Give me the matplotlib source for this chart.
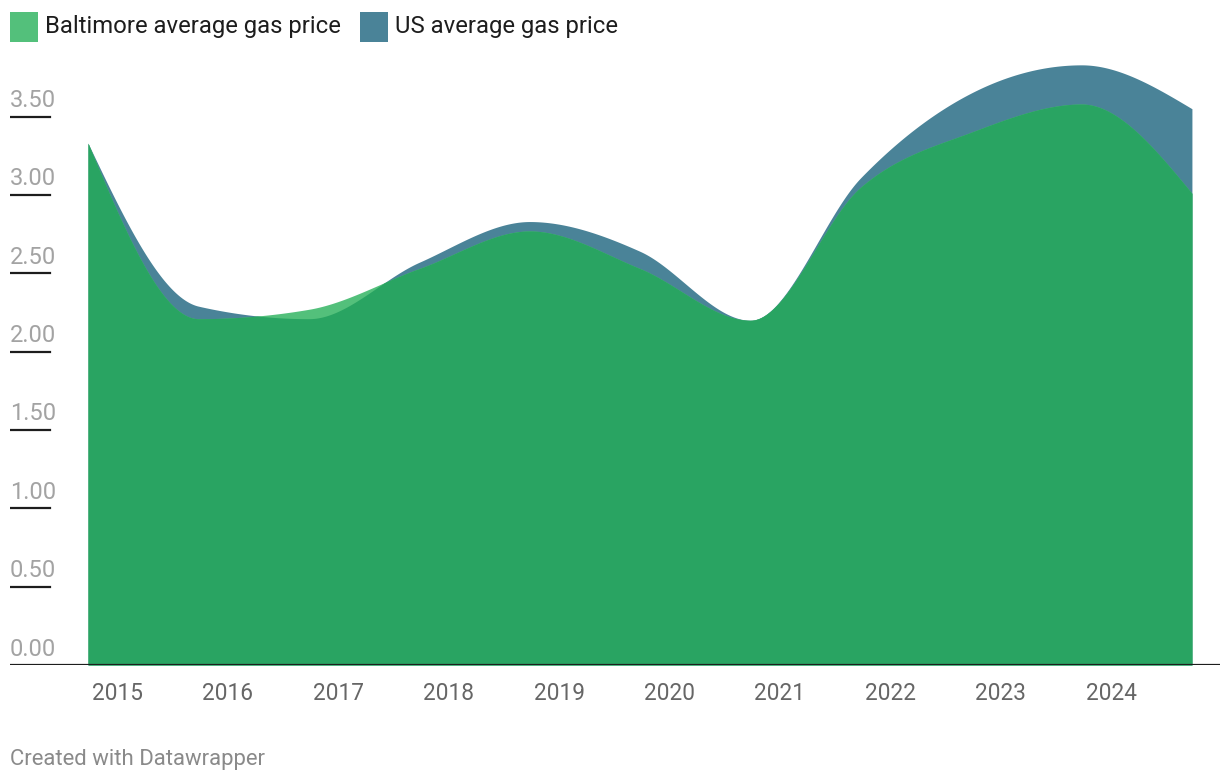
import numpy as np
import matplotlib
matplotlib.use("Agg")
import matplotlib.pyplot as plt
from matplotlib import transforms

# ---------------- data ----------------
years = [2014, 2015, 2016, 2017, 2018, 2019, 2020, 2021, 2022, 2023, 2024]
baltimore = [3.33, 2.21, 2.27, 2.53, 2.77, 2.53, 2.20, 3.05, 3.40, 3.58, 3.01]
us_avg = [3.33, 2.29, 2.21, 2.57, 2.83, 2.64, 2.20, 3.11, 3.65, 3.83, 3.55]
x_ticks = [2015, 2016, 2017, 2018, 2019, 2020, 2021, 2022, 2023, 2024]
y_ticks = [0.0, 0.5, 1.0, 1.5, 2.0, 2.5, 3.0, 3.5]
series_names = ["Baltimore average gas price", "US average gas price"]

DATE_OFFSET = 0.733  # observations fall in late September of each year

C_OVERLAP = "#29a462"
C_BALT = "#53c07b"
C_US = "#4a8398"

plt.rcParams["font.family"] = ["Roboto", "DejaVu Sans"]


def monotone_x(x, y, n=60):
    """d3.curveMonotoneX style interpolation."""
    x = np.asarray(x, float)
    y = np.asarray(y, float)
    h = np.diff(x)
    s = np.diff(y) / h
    m = len(x)
    t = np.zeros(m)
    sg = lambda v: -1.0 if v < 0 else 1.0
    for i in range(1, m - 1):
        p = (s[i - 1] * h[i] + s[i] * h[i - 1]) / (h[i - 1] + h[i])
        t[i] = (sg(s[i - 1]) + sg(s[i])) * min(abs(s[i - 1]), abs(s[i]), 0.5 * abs(p))
    t[0] = (3 * s[0] - t[1]) / 2
    t[-1] = (3 * s[-1] - t[-2]) / 2
    xs, ys = [], []
    for i in range(m - 1):
        u = np.linspace(0, 1, n, endpoint=(i == m - 2))
        h00 = 2 * u**3 - 3 * u**2 + 1
        h10 = u**3 - 2 * u**2 + u
        h01 = -2 * u**3 + 3 * u**2
        h11 = u**3 - u**2
        xs.append(x[i] + u * h[i])
        ys.append(h00 * y[i] + h10 * h[i] * t[i] + h01 * y[i + 1] + h11 * h[i] * t[i + 1])
    return np.concatenate(xs), np.concatenate(ys)


W, H = 1220, 782
fig = plt.figure(figsize=(W / 100, H / 100), dpi=100)

# pixel geometry
ax_left_px, ax_right_px = 10, 1220
base_px, top_px = 665, 60
px_per_year = 110.39
tick2015_px = 117.5

ax = fig.add_axes([ax_left_px / W, (H - base_px) / H,
                   (ax_right_px - ax_left_px) / W, (base_px - top_px) / H])
x0 = 2015 + (ax_left_px - tick2015_px) / px_per_year
x1 = 2015 + (ax_right_px - tick2015_px) / px_per_year
ax.set_xlim(x0, x1)
ax.set_ylim(0, (base_px - top_px) / 156.7)

xd = np.array(years) + DATE_OFFSET
xs, yb = monotone_x(xd, baltimore)
_, yu = monotone_x(xd, us_avg)
ymin = np.minimum(yb, yu)

# layered fills (no seams): US, Baltimore, then the shared part on top
ax.fill_between(xs, 0, yu, color=C_US, lw=0, zorder=1)
ax.fill_between(xs, 0, yb, color=C_BALT, lw=0, zorder=1.5)
ax.fill_between(xs, 0, ymin, color=C_OVERLAP, lw=0, zorder=2)

for s in ax.spines.values():
    s.set_visible(False)
ax.set_yticks([])
ax.set_xticks(x_ticks)
ax.set_xticklabels([str(v) for v in x_ticks], fontsize=16.3, color="#666666")
ax.tick_params(axis="x", length=0, pad=12)
ax.axhline(0, color="#1d1d1d", lw=1.6, zorder=3)

ytrans = transforms.blended_transform_factory(ax.transAxes, ax.transData)
lab_trans = transforms.offset_copy(ytrans, fig=fig, y=9.5 * 0.72, units="points")
for v in y_ticks:
    if v > 0:
        ax.axhline(v, xmin=0, xmax=40 / (ax_right_px - ax_left_px), color="#1d1d1d", lw=1.6, zorder=3)
    ax.text(0, v, f"{v:.2f}", transform=lab_trans, ha="left", va="baseline",
            fontsize=17, color="#a3a3a3", zorder=4)

# legend
sq_w, sq_h = 28, 30
for (lx, name, col) in [(10, series_names[0], C_BALT), (360, series_names[1], C_US)]:
    fig.patches.append(plt.Rectangle((lx / W, (H - 42) / H), sq_w / W, sq_h / H,
                                     transform=fig.transFigure, color=col, lw=0))
    fig.text((lx + 35) / W, (H - 27) / H, name, ha="left", va="center",
             fontsize=17.2, color="#1d1d1d")

fig.text(10 / W, (H - 759) / H, "Created with Datawrapper", ha="left", va="center",
         fontsize=15.9, color="#8a8a8a")

fig.savefig("out.png", dpi=100)
